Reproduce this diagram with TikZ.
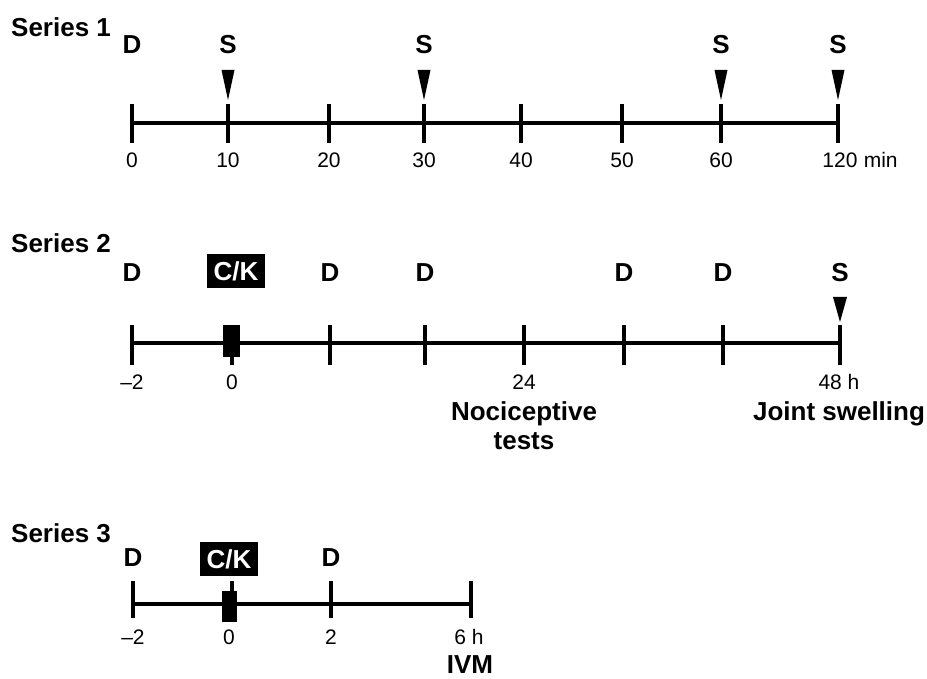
\documentclass[tikz,border=0pt]{standalone}
\usepackage{fontspec}
\setmainfont{Liberation Sans}
\begin{document}
\begin{tikzpicture}[x=1pt,y=-1pt,
  axis/.style={line width=3.3pt},
  tk/.style={line width=3.8pt},
  big/.style={font=\fontsize{26}{31}\selectfont\bfseries, anchor=base, inner sep=0pt},
  num/.style={font=\fontsize{21}{25}\selectfont, anchor=base, inner sep=0pt},
  ck/.style={fill=black, text=white, font=\fontsize{26}{31}\selectfont\bfseries, minimum width=58pt, minimum height=34pt, inner sep=0pt}]
\useasboundingbox (0,0) rectangle (927,679);

% ---------- Series 1 ----------
\node[big, anchor=base west] (s1) at (11,37) {Series 1};
\draw[axis] (132,123) -- (838,123);
\foreach \x in {132,228,329,424,521,622,721,838} \draw[tk] (\x,104) -- (\x,143);
\foreach \x in {228,424,721,838} \fill (\x-6.5,70) -- (\x+6.5,70) -- (\x,100) -- cycle;
\node[big] (s1d) at (132,54) {D};
\node[big] (s1s1) at (228,54) {S};
\node[big] (s1s2) at (424,54) {S};
\node[big] (s1s3) at (721,54) {S};
\node[big] (s1s4) at (838,54) {S};
\node[num] (t0) at (132,168) {0};
\node[num] (t10) at (228,168) {10};
\node[num] (t20) at (329,168) {20};
\node[num] (t30) at (424,168) {30};
\node[num] (t40) at (521,168) {40};
\node[num] (t50) at (622,168) {50};
\node[num] (t60) at (721,168) {60};
\node[num] (t120) at (840,168) {120};
\node[num, anchor=base west] (tmin) at (t120.base east) {\ min};

% ---------- Series 2 ----------
\node[big, anchor=base west] (s2) at (11,253) {Series 2};
\draw[axis] (132,343) -- (840,343);
\foreach \x in {132,232,330,425,524,624,723,840} \draw[tk] (\x,325) -- (\x,365);
\fill (223,325) rectangle (240,357);
\fill (833,297) -- (847,297) -- (840,322) -- cycle;
\node[big] (s2d1) at (132,282) {D};
\node[ck] (s2ck) at (236,271) {C/K};
\node[big] (s2d2) at (330,282) {D};
\node[big] (s2d3) at (425,282) {D};
\node[big] (s2d4) at (624,282) {D};
\node[big] (s2d5) at (723,282) {D};
\node[big] (s2s) at (840,282) {S};
\node[num] (u1) at (132,389) {–2};
\node[num] (u2) at (232,389) {0};
\node[num] (u3) at (524,389) {24};
\node[num] (u4) at (839,389) {48 h};
\node[big] (noc1) at (524,420) {Nociceptive};
\node[big] (noc2) at (524,449) {tests};
\node[big] (js) at (839,420) {Joint swelling};

% ---------- Series 3 ----------
\node[big, anchor=base west] (s3) at (11,542) {Series 3};
\draw[axis] (133,604) -- (471,604);
\foreach \x in {133,232,331,471} \draw[tk] (\x,581) -- (\x,618);
\fill (222,591) rectangle (237,622);
\node[big] (s3d1) at (133,566) {D};
\node[ck] (s3ck) at (229,559) {C/K};
\node[big] (s3d2) at (331,566) {D};
\node[num] (v1) at (133,644) {–2};
\node[num] (v2) at (229,644) {0};
\node[num] (v3) at (331,644) {2};
\node[num] (v4) at (469,644) {6 h};
\node[big] (ivm) at (470,673) {IVM};
\end{tikzpicture}
\end{document}
